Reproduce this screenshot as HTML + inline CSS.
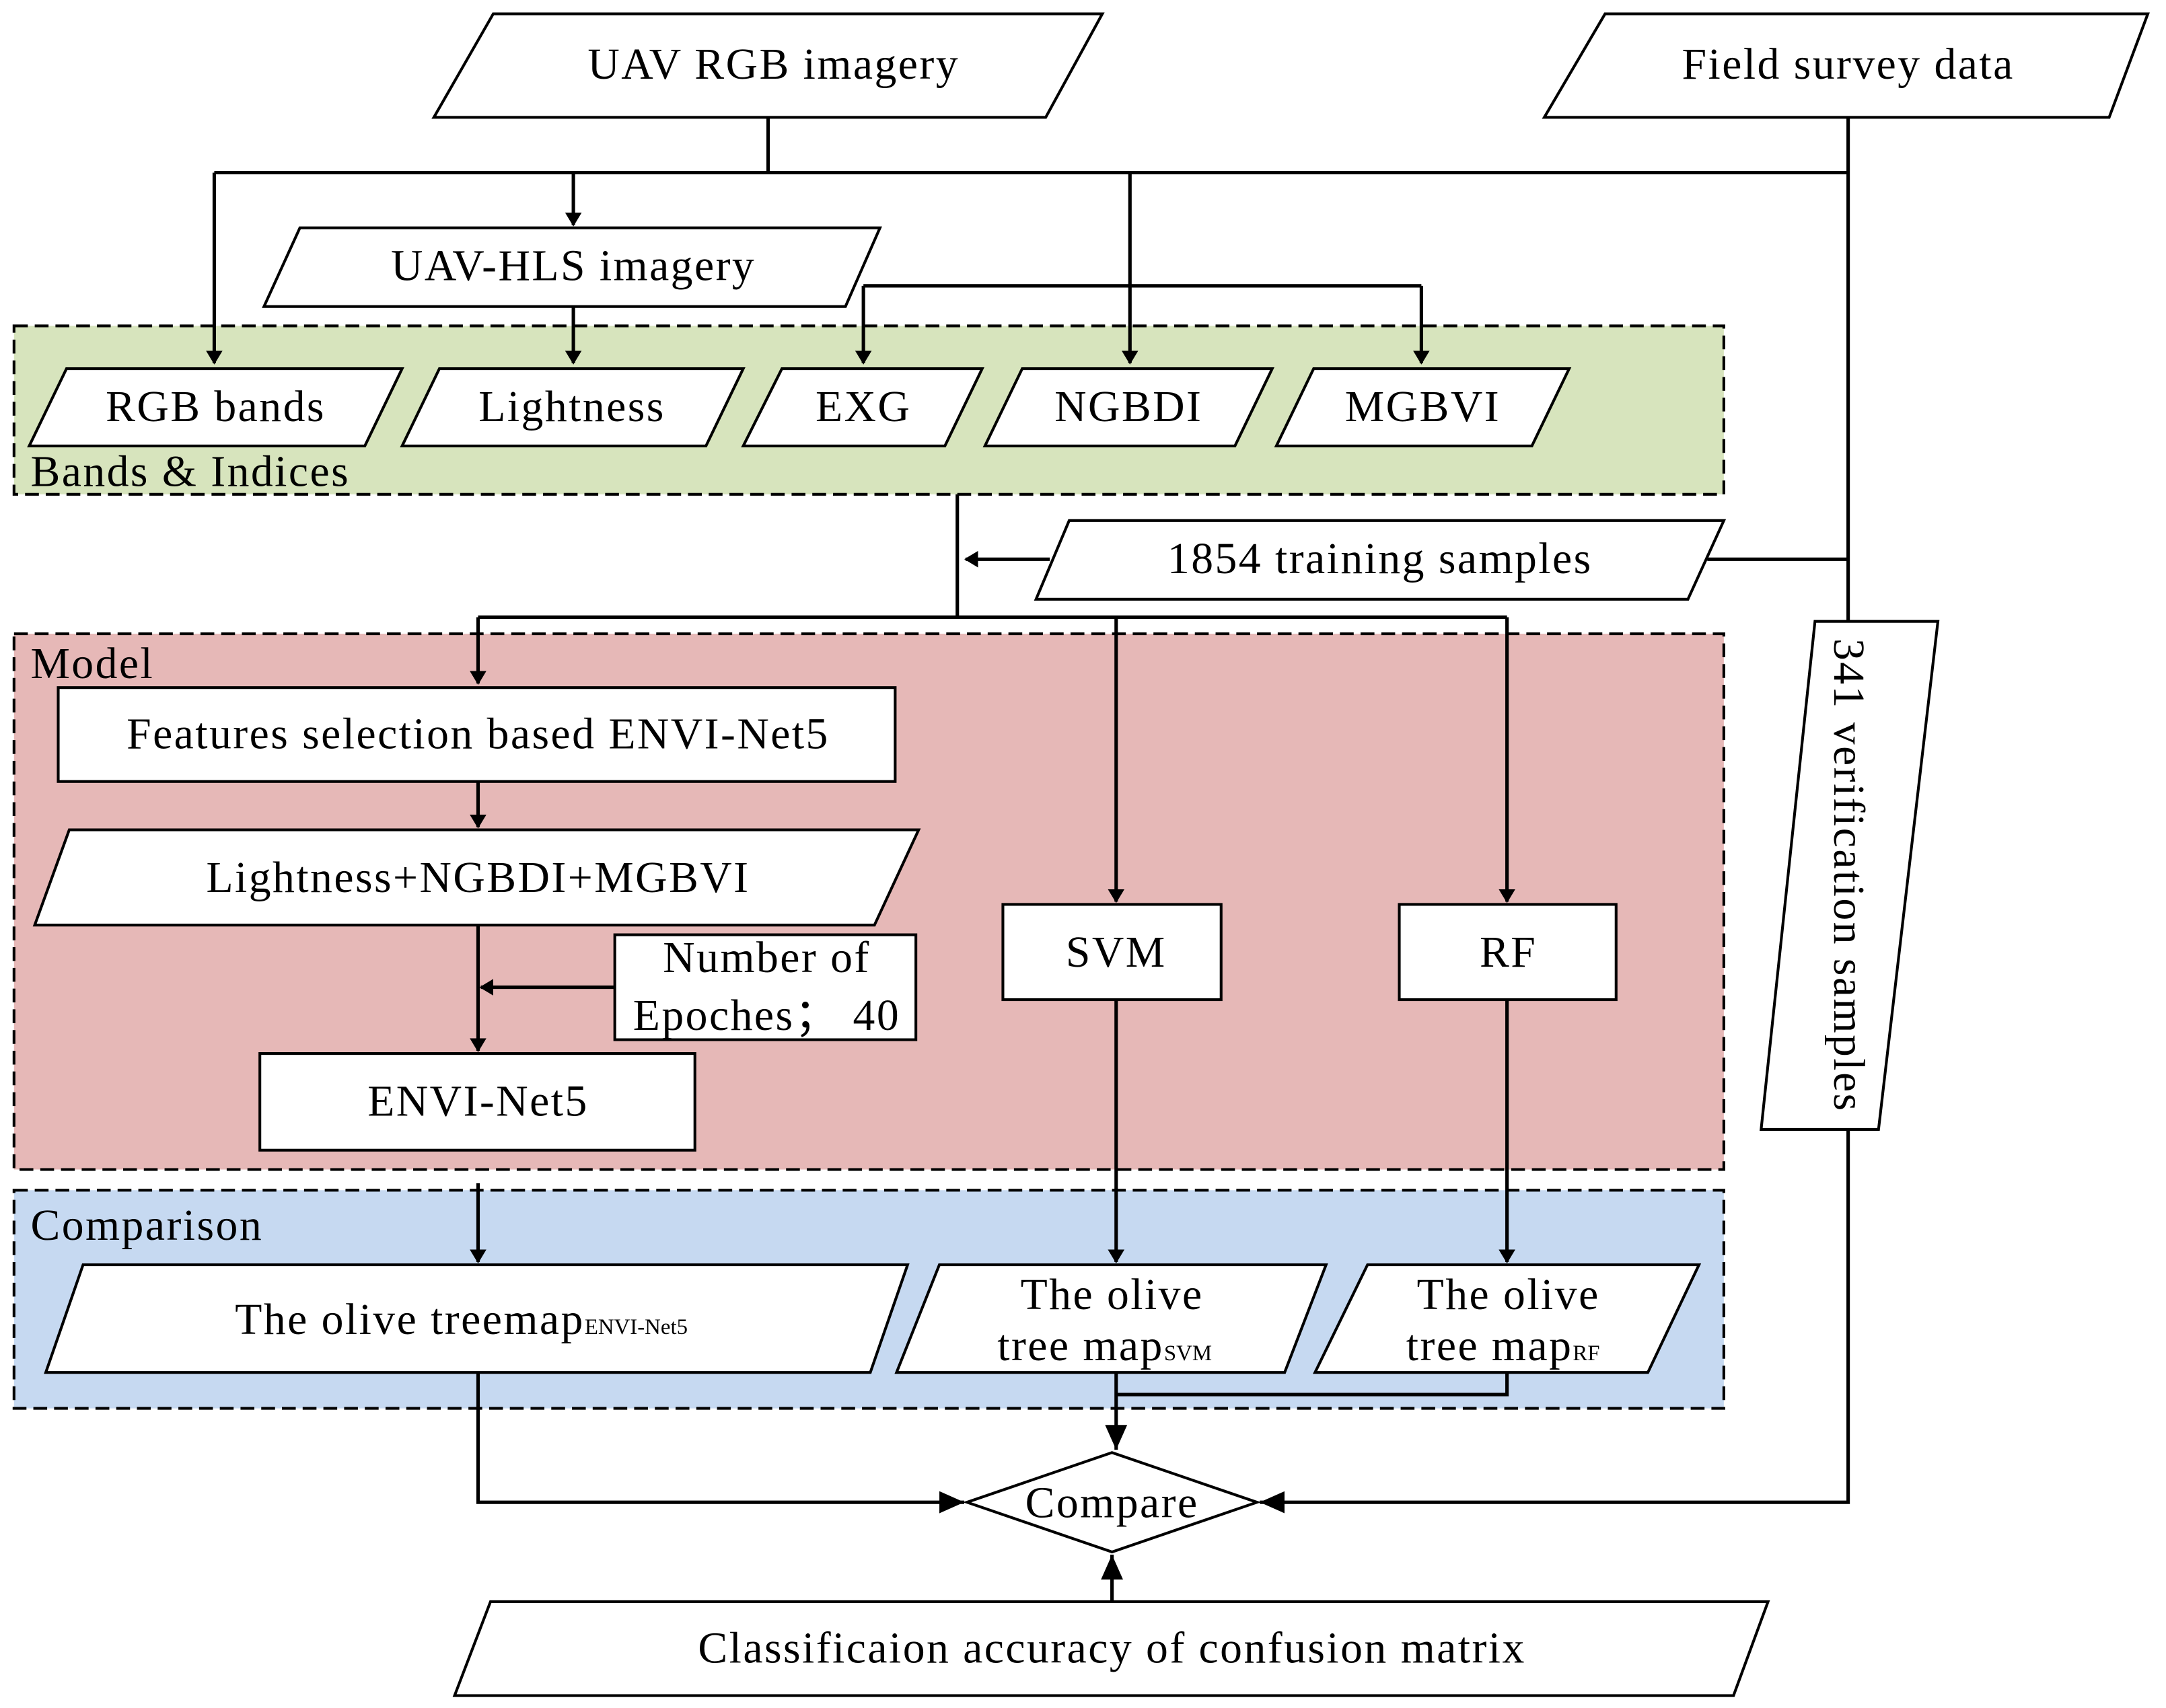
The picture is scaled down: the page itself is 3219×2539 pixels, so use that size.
<!DOCTYPE html>
<html><head><meta charset="utf-8"><style>
html,body{margin:0;padding:0;background:#fff;}
svg{display:block;}
text{font-family:"Liberation Serif",serif;font-size:32px;letter-spacing:1.2px;fill:#000;}
</style></head><body>
<svg width="3219" height="2539" viewBox="0 0 1568 1237" xmlns="http://www.w3.org/2000/svg">
<defs><marker id="a" markerWidth="10" markerHeight="12" refX="9" refY="6" orient="auto" markerUnits="userSpaceOnUse"><path d="M0,0 L10,6 L0,12 Z" fill="#000"/></marker>
<marker id="b" markerWidth="20" markerHeight="16" refX="18" refY="8" orient="auto" markerUnits="userSpaceOnUse"><path d="M0,0 L18,8 L0,16 Z" fill="#000"/></marker></defs>
<rect x="10" y="236" width="1238" height="122" fill="#d7e4bd" stroke="#000" stroke-width="2" stroke-dasharray="10,5"/>
<rect x="10" y="459" width="1238" height="388" fill="#e6b8b7" stroke="#000" stroke-width="2" stroke-dasharray="10,5"/>
<rect x="10" y="862" width="1238" height="158" fill="#c6d9f1" stroke="#000" stroke-width="2" stroke-dasharray="10,5"/>
<text x="22" y="352">Bands &amp; Indices</text>
<text x="22" y="491">Model</text>
<text x="22" y="898">Comparison</text>
<g fill="#fff" stroke="#000" stroke-width="2">
<polygon points="357,10 798,10 757,85 314,85"/>
<polygon points="1162,10 1555,10 1527,85 1118,85"/>
<polygon points="217,165 637,165 612,222 191,222"/>
<polygon points="48,267 291,267 264,323 21,323"/>
<polygon points="318,267 538,267 511,323 291,323"/>
<polygon points="566,267 711,267 684,323 538,323"/>
<polygon points="740,267 921,267 894,323 713,323"/>
<polygon points="951,267 1136,267 1109,323 924,323"/>
<polygon points="774,377 1248,377 1222,434 750,434"/>
<rect x="42" y="498" width="606" height="68"/>
<polygon points="50,601 665,601 633,670 25,670"/>
<rect x="445" y="677" width="218" height="76"/>
<rect x="188" y="763" width="315" height="70"/>
<rect x="726" y="655" width="158" height="69"/>
<rect x="1013" y="655" width="157" height="69"/>
<polygon points="60,916 657,916 630,994 33,994"/>
<polygon points="680,916 960,916 930,994 649,994"/>
<polygon points="990,916 1230,916 1193,994 952,994"/>
<polygon points="805,1052 910,1088 805,1124 700,1088"/>
<polygon points="355,1160 1280,1160 1255,1228 329,1228"/>
<polygon points="1314,450 1403,450 1360,818 1275,818"/>
</g>
<g fill="none" stroke="#000" stroke-width="2.5">
<path d="M556,85 V125 M155,125 H1338 M1338,85 V450"/>
<path d="M155,125 V263" marker-end="url(#a)"/>
<path d="M415,125 V163" marker-end="url(#a)"/>
<path d="M818,125 V263" marker-end="url(#a)"/>
<path d="M415,222 V263" marker-end="url(#a)"/>
<path d="M625,207 H1029 M625,207 V263" marker-end="url(#a)"/>
<path d="M1029,207 V263" marker-end="url(#a)"/>
<path d="M693,358 V447 M346,447 H1091"/>
<path d="M760,405 H699" marker-end="url(#a)"/>
<path d="M1236,405 H1338"/>
<path d="M346,447 V495" marker-end="url(#a)"/>
<path d="M808,447 V653" marker-end="url(#a)"/>
<path d="M1091,447 V653" marker-end="url(#a)"/>
<path d="M346,566 V599" marker-end="url(#a)"/>
<path d="M346,670 V761" marker-end="url(#a)"/>
<path d="M445,715 H348" marker-end="url(#a)"/>
<path d="M808,724 V914" marker-end="url(#a)"/>
<path d="M1091,724 V914" marker-end="url(#a)"/>
<path d="M346,857 V914" marker-end="url(#a)"/>
<path d="M346,994 V1088 H698" marker-end="url(#b)"/>
<path d="M1338,818 V1088 H912" marker-end="url(#b)"/>
<path d="M1091,994 V1010 H808 M808,994 V1050" marker-end="url(#b)"/>
<path d="M805,1160 V1126" marker-end="url(#b)"/>
</g>
<g text-anchor="middle">
<text x="560" y="57">UAV RGB imagery</text>
<text x="1338" y="57">Field survey data</text>
<text x="415" y="203">UAV-HLS imagery</text>
<text x="156" y="305">RGB bands</text>
<text x="414" y="305">Lightness</text>
<text x="625" y="305">EXG</text>
<text x="817" y="305">NGBDI</text>
<text x="1030" y="305">MGBVI</text>
<text x="999" y="415">1854 training samples</text>
<text x="346" y="542">Features selection based ENVI-Net5</text>
<text x="346" y="646">Lightness+NGBDI+MGBVI</text>
<text x="555" y="704">Number of</text>
<text x="555" y="746">Epoches；  40</text>
<text x="346" y="808">ENVI-Net5</text>
<text x="808" y="700">SVM</text>
<text x="1092" y="700">RF</text>
<text x="805" y="1099">Compare</text>
<text x="805" y="1204">Classificaion accuracy of confusion matrix</text>
<text x="805" y="948">The olive</text>
<text x="1092" y="948">The olive</text>
</g>
<text x="170" y="966">The olive treemap<tspan font-size="16" letter-spacing="0">ENVI-Net5</tspan></text>
<text x="722" y="985">tree map<tspan font-size="16" letter-spacing="0">SVM</tspan></text>
<text x="1018" y="985">tree map<tspan font-size="16" letter-spacing="0">RF</tspan></text>
<text x="1338" y="634" text-anchor="middle" transform="rotate(90 1338 634)" dy="10">341 verification samples</text>
</svg>
</body></html>
